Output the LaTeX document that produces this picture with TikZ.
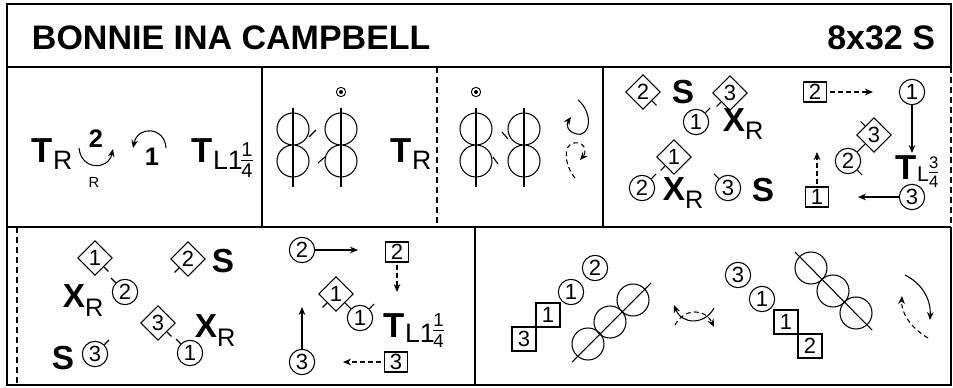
\documentclass[tikz,border=0pt]{standalone}
\usepackage{fontspec}
\setmainfont{Liberation Sans}
\usetikzlibrary{shapes.geometric, arrows.meta, calc}

\newcommand\fTitle{\fontsize{25.5}{25.5}\selectfont\bfseries}
\newcommand\fBig{\fontsize{26}{26}\selectfont\bfseries}
\newcommand\fMid{\fontsize{25}{25}\selectfont\bfseries}
\newcommand\fSub{\fontsize{20}{20}\selectfont\mdseries}
\newcommand\fSubs{\fontsize{19}{19}\selectfont\mdseries}
\newcommand\fNum{\fontsize{16.5}{16.5}\selectfont}
% raise, size, numerator, denominator
\newcommand\fr[4]{\raisebox{#1}{\fontsize{#2}{#2}\selectfont\vbox{\hbox{#3}\kern2.5pt\hrule height0.6pt\kern2.5pt\hbox{#4}}}}

\tikzset{
  frame/.style={line width=1pt},
  circ/.style={circle, draw, inner sep=0pt, minimum size=19pt, font=\fNum},
  diam/.style={diamond, draw, inner sep=0pt, minimum size=26pt, font=\fNum},
  nbox/.style={rectangle, draw, inner sep=0pt, minimum width=17.5pt, minimum height=15pt, font=\fNum},
  bigbox/.style={nbox, minimum width=18pt, minimum height=18pt},
  pdot/.style={circle, draw, line width=0.7pt, inner sep=0pt, minimum size=7pt},
  arr/.style={-{Stealth[length=6pt,width=5pt]}},
  darr/.style={arr, dash pattern=on 3.5pt off 2.5pt},
}

\begin{document}
\begin{tikzpicture}[x=0.75pt, y=-0.75pt, line width=0.8pt]
  \useasboundingbox (0,0) rectangle (953,388);

  % frame
  \draw[frame] (951,227) -- (951,385) -- (7,385) -- (7,4) -- (951,4) -- (951,67);
  \draw[frame] (7,67) -- (951,67) (7,227) -- (951,227);
  \draw[frame] (262,67) -- (262,227) (603,67) -- (603,227) (475,227) -- (475,385);
  \draw[frame, dash pattern=on 4.5pt off 3pt] (437,67) -- (437,227) (951,67) -- (951,227) (17,227) -- (17,385);

  % title
  \node[anchor=base west, font=\fTitle] (title) at (27,50) {BONNIE INA CAMPBELL};
  \node[anchor=base east, font=\fTitle] (form) at (940,50) {8x32 S};

  % bars 1-2
  \node[anchor=base west, font=\fBig] (tra) at (27,163) {T\raisebox{-5pt}{\fSub R}};
  \node[font=\fontsize{19}{19}\selectfont\bfseries] (two) at (96,139) {2};
  \node[font=\fontsize{11}{11}\selectfont] (rhand) at (94,182) {R};
  \draw[arr] (79,148) .. controls (81,170) and (108,171) .. (113,149);
  \node[font=\fontsize{19}{19}\selectfont\bfseries] (one) at (152,157) {1};
  \draw[arr] (166,148) .. controls (165,127) and (138,125) .. (133,148);
  \node[anchor=base west, font=\fBig] (tla) at (187,163) {T\raisebox{-5pt}{\fSub L1\kern-1pt\fr{-6pt}{15}{1}{4}}};

  % bars 3-6: the figures of eight
  \foreach \x in {293,341,476,524} {
    \draw (\x,129) circle[radius=12pt] (\x,161) circle[radius=12pt];
    \draw (\x,108) -- (\x,187);
  }
  \draw (309,137) -- (316,130);
  \draw (325,157) -- (318,163);
  \draw (493,157) -- (498,164);
  \draw (502,132) -- (508,139);
  \node[pdot] (pb) at (341,92) {};
  \fill (pb.center) circle[radius=1.5pt];
  \node[pdot] (pc) at (476,92) {};
  \fill (pc.center) circle[radius=1.5pt];
  \node[anchor=base west, font=\fBig] (trb) at (386,163) {T\raisebox{-5pt}{\fSub R}};
  \draw[arr] (578,100) .. controls (593,112) and (591,137) .. (577,134) .. controls (567,132) and (566,124) .. (571,117);
  \draw[darr] (575,178) .. controls (565,166) and (562,145) .. (574,143) .. controls (585,141) and (587,152) .. (580,160);

  % bars 7-8
  \node[diam] (d2) at (643,92) {2};
  \node[font=\fMid] (s1) at (683,92) {S};
  \node[diam] (d3) at (730,93) {3};
  \node[circ] (c1) at (696,122) {1};
  \node[anchor=base west, font=\fMid] (xr1) at (718,132) {X\raisebox{-6pt}{\fSubs R}};
  \node[diam] (d1) at (674,157) {1};
  \node[circ] (c2) at (642,188) {2};
  \node[anchor=base west, font=\fMid] (xr2) at (658,201) {X\raisebox{-6pt}{\fSubs R}};
  \node[circ] (c3) at (728,188) {3};
  \node[font=\fMid] (s2) at (763,190) {S};

  \node[nbox] (q2) at (815,92) {2};
  \coordinate (q2e) at (873,92);
  \draw[darr, shorten <=2pt] (q2) -- (q2e);
  \node[circ] (c1r) at (912,92) {1};
  \coordinate (c1e) at (912,153);
  \draw[arr] (c1r) -- (c1e);
  \node[diam] (d3r) at (874,135) {3};
  \node[circ] (c2r) at (848,161) {2};
  \draw (d3r.-135) -- (c2r.45);
  \node[anchor=base west, font=\fBig] (tlb) at (891,180) {T\raisebox{-1pt}{\fontsize{16}{16}\selectfont\mdseries L\fr{-5pt}{12.5}{3}{4}}};
  \node[nbox] (q1) at (817,197) {1};
  \coordinate (q1e) at (817,152);
  \draw[darr, shorten <=2pt] (q1) -- (q1e);
  \node[circ] (c3r) at (912,197) {3};
  \coordinate (c3e) at (858,197);
  \draw[arr] (c3r) -- (c3e);

  % bars 9-12
  \node[diam] (d1e) at (95,258) {1};
  \node[circ] (c2e) at (125,292) {2};
  \node[anchor=base west, font=\fMid] (xr3) at (58,308) {X\raisebox{-6pt}{\fSubs R}};
  \node[diam] (d2e) at (188,259) {2};
  \node[font=\fMid] (s3) at (223,261) {S};
  \node[diam] (d3e) at (158,323) {3};
  \node[anchor=base west, font=\fMid] (xr4) at (190,338) {X\raisebox{-6pt}{\fSubs R}};
  \node[circ] (c1e) at (190,353) {1};
  \node[font=\fMid] (s4) at (63,358) {S};
  \node[circ] (c3e) at (95,354) {3};

  \node[circ] (c2f) at (302,250) {2};
  \coordinate (c2fe) at (358,250);
  \draw[arr] (c2f) -- (c2fe);
  \node[nbox] (q2f) at (397,252) {2};
  \coordinate (q2fe) at (397,292);
  \draw[darr, shorten <=2pt] (q2f) -- (q2fe);
  \node[diam] (d1f) at (336,294) {1};
  \node[circ] (c1f) at (360,318) {1};
  \draw (d1f.-45) -- (c1f.135);
  \node[anchor=base west, font=\fBig] (tlc) at (379,337) {T\raisebox{-4.5pt}{\fSub L1\kern-1pt\fr{-3pt}{14}{1}{4}}};
  \node[circ] (c3f) at (302,362) {3};
  \coordinate (c3fe) at (302,307);
  \draw[arr] (c3f) -- (c3fe);
  \node[nbox] (q3f) at (396,362) {3};
  \coordinate (q3fe) at (343,362);
  \draw[darr, shorten <=2pt] (q3f) -- (q3fe);

  % facing ticks
  \foreach \n/\a in {d2/-45, d3/-135, c1/45, d1/-135, c2/45, c3/135, d3r/135, c2r/-45,
                     d1e/-45, c2e/135, d2e/-135, d3e/-45, c1e/135, c3e/45, d1f/-135, c1f/45}
    \draw (\n.\a) -- ($(\n.center)!1.5!(\n.\a)$);

  % bars 13-16
  \node[bigbox] (q3g) at (524,339) {3};
  \node[bigbox] (q1g) at (548,315) {1};
  \node[circ] (c1g) at (571,292) {1};
  \node[circ] (c2g) at (595,268) {2};
  \foreach \x/\y in {588/344, 610/322, 633/300, 811/268, 833/291, 856/313}
    \draw (\x,\y) circle[radius=12pt];
  \draw (572,362) -- (651,283);
  \draw[arr] (714,308) .. controls (705,325) and (682,325) .. (674,305);
  \draw[darr] (675,325) .. controls (684,308) and (705,308) .. (714,327);

  \node[circ] (c3h) at (738,275) {3};
  \node[circ] (c1h) at (762,299) {1};
  \node[bigbox] (q1h) at (786,322) {1};
  \node[bigbox] (q2h) at (810,346) {2};
  \draw (795,252) -- (872,330);
  \draw[arr] (905,275) .. controls (921,283) and (931,298) .. (930,320);
  \draw[darr] (928,338) .. controls (911,328) and (901,313) .. (902,296);
\end{tikzpicture}
\end{document}
